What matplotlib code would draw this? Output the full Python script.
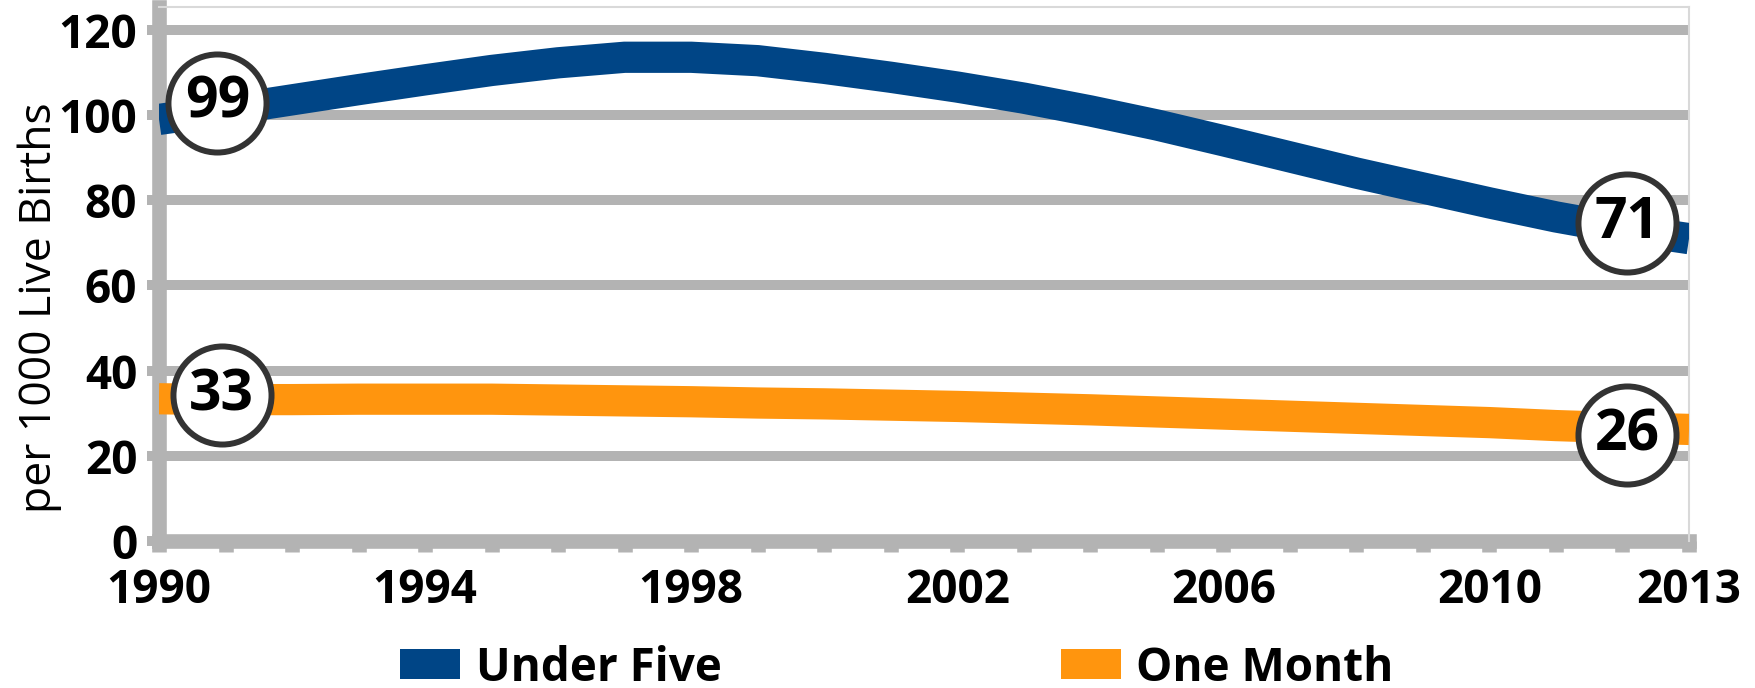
import matplotlib
matplotlib.use("Agg")
import matplotlib.pyplot as plt
from matplotlib.patches import Patch
from matplotlib.transforms import ScaledTranslation

years = list(range(1990, 2014))
under_five = [99.0, 101.2, 103.6, 106.0, 108.3, 110.5, 112.3, 113.6, 113.6, 112.8,
              111.0, 108.9, 106.6, 104.0, 101.0, 97.7, 94.0, 90.2, 86.4, 82.9,
              79.4, 76.1, 73.3, 71.0]
one_month = [33.4, 33.2, 33.2, 33.3, 33.3, 33.3, 33.1, 32.9, 32.7, 32.4,
             32.2, 31.9, 31.6, 31.2, 30.8, 30.3, 29.8, 29.3, 28.8, 28.3,
             27.8, 27.1, 26.6, 26.2]
series_names = ["Under Five", "One Month"]
x_tick_years = [1990, 1994, 1998, 2002, 2006, 2010, 2013]
y_ticks = [0, 20, 40, 60, 80, 100, 120]

BLUE = "#004586"
ORANGE = "#ff950e"
GRID = "#b3b3b3"
FONT = "Open Sans"

fig = plt.figure(figsize=(17.55, 6.88), dpi=100)
ax = fig.add_axes([0.0906, 0.2137, 0.9624 - 0.0906, 0.9898 - 0.2137])

ax.set_xlim(1990, 2013)
ax.set_ylim(0, 125.4)

ax.set_yticks(y_ticks)
ax.set_yticklabels([str(v) for v in y_ticks], fontfamily=FONT, fontweight="bold", fontsize=33)
ax.set_xticks(years)
ax.set_xticklabels([str(y) if y in x_tick_years else "" for y in years],
                   fontfamily=FONT, fontweight="bold", fontsize=33)

ax.grid(axis="y", color=GRID, linewidth=7.2, zorder=0)
ax.set_axisbelow(True)
ax.tick_params(axis="y", length=8.6, width=7.2, color=GRID, pad=7)
ax.tick_params(axis="x", length=8.0, width=10.5, color=GRID, pad=11)

for side in ["left", "bottom"]:
    ax.spines[side].set_color(GRID)
    ax.spines[side].set_linewidth(10.5)
    ax.spines[side].set_zorder(1)
for side in ["top", "right"]:
    ax.spines[side].set_color("#d9d9d9")
    ax.spines[side].set_linewidth(1.5)

ax.plot(years, under_five, color=BLUE, linewidth=22.5, solid_capstyle="butt",
        solid_joinstyle="round", zorder=3)
ax.plot(years, one_month, color=ORANGE, linewidth=22.5, solid_capstyle="butt",
        solid_joinstyle="round", zorder=3)

ax.set_ylabel("per 1000 Live Births", fontfamily=FONT, fontsize=32)
ax.yaxis.set_label_coords(-0.0635, 0.436)

# circled end-value labels (offsets in points from the data point)
labels = [
    (years[0], under_five[0], 42.0, 11.9),
    (years[-1], under_five[-1], -44.6, 11.3),
    (years[0], one_month[0], 45.0, 2.7),
    (years[-1], one_month[-1], -44.6, -4.3),
]
for x, y, dx, dy in labels:
    tr = ax.transData + ScaledTranslation(dx / 72, dy / 72, fig.dpi_scale_trans)
    ax.plot([x], [y], marker="o", markersize=70.6, markerfacecolor="white",
            markeredgecolor="#333333", markeredgewidth=4.3, transform=tr,
            zorder=5, clip_on=False)
    ax.text(x, y, f"{round(y)}", transform=tr, ha="center", va="center",
            fontfamily=FONT, fontweight="bold", fontsize=41, color="black",
            zorder=6)

handles = [Patch(facecolor=BLUE, edgecolor="none"), Patch(facecolor=ORANGE, edgecolor="none")]
fig.legend(handles, series_names, loc="center", bbox_to_anchor=(0.511, 0.029), ncol=2,
           frameon=False, handlelength=1.31, handleheight=0.63, handletextpad=0.33,
           columnspacing=7.4, borderpad=0, borderaxespad=0,
           prop={"family": FONT, "weight": "bold", "size": 33})

fig.savefig("out.png", dpi=100, facecolor="white")
